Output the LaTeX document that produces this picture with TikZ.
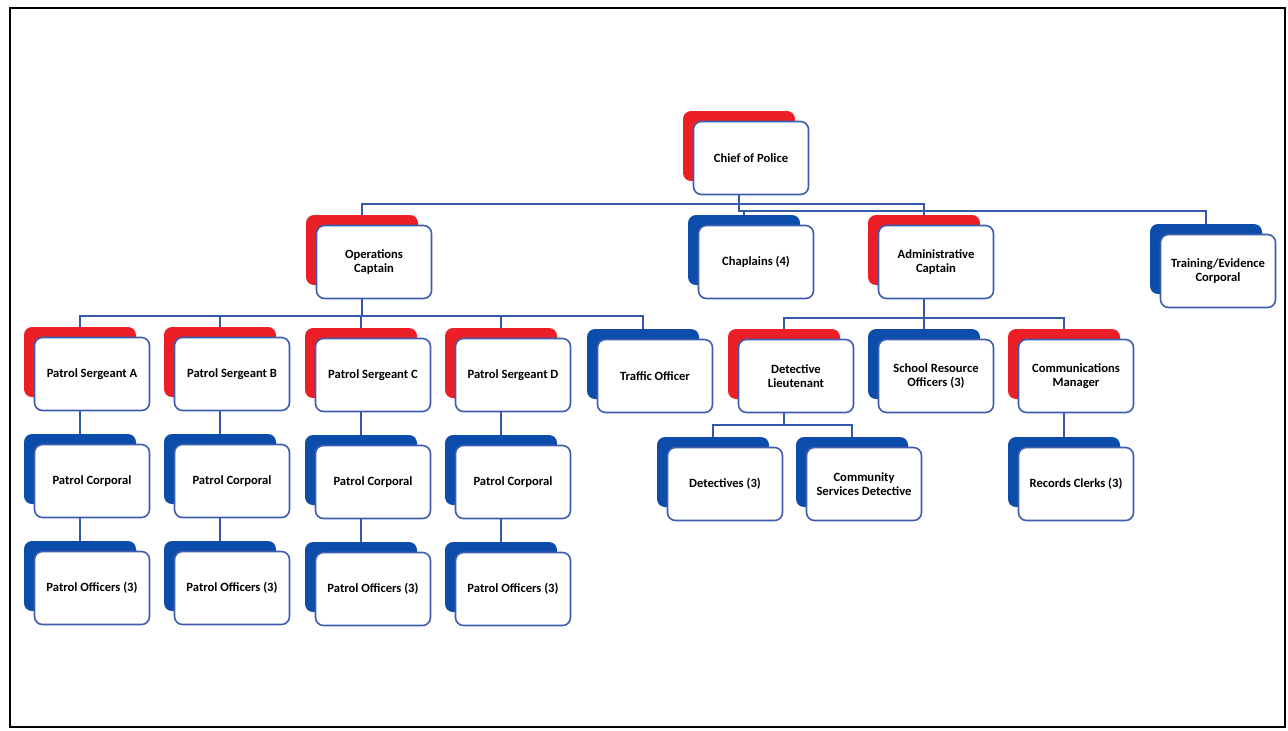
\documentclass[tikz,border=0pt]{standalone}
\usepackage{fontspec}
\setmainfont{Carlito}
\usetikzlibrary{backgrounds}

\definecolor{rankred}{RGB}{236,30,38}
\definecolor{rankblue}{RGB}{12,76,170}
\definecolor{cardedge}{RGB}{62,92,176}
\definecolor{linkblue}{RGB}{52,88,172}

\tikzset{
  card/.style={draw=cardedge, line width=0.8pt, fill=white, rounded corners=4pt,
    minimum width=57.5pt, minimum height=36.5pt, inner sep=0pt, align=center,
    font=\fontsize{6.3}{7}\selectfont\bfseries},
  backcard/.style={fill=#1, rounded corners=4pt, minimum width=56pt,
    minimum height=35pt, inner sep=0pt},
  link/.style={draw=linkblue, line width=0.7pt},
}

% one post: name, x, y, colour, text
\newcommand{\post}[5]{%
  \node[backcard=#4] (#1) at ({#2-12},{#3-12}) {};
  \node[card] (#1card) at (#2,#3) {#5};
}
% connector from parent to child, bend at bar height
\newcommand{\tie}[3]{\draw[link] (#1.south) -- (#1.south |- 0,#3) -| (#2.north);}

\begin{document}
\begin{tikzpicture}[x=0.5pt, y=-0.5pt]
    \useasboundingbox (0,0) rectangle (1288,730);

    % Frame
    \draw[line width=1.3pt] (10,8) rectangle (1285,727);

    % Top
    \post{chief}{751}{158}{rankred}{Chief of Police}

    % Second row
    \post{ops}{374}{262}{rankred}{Operations\\Captain}
    \post{chaplains}{756}{262}{rankblue}{Chaplains (4)}
    \post{admin}{936}{262}{rankred}{Administrative\\Captain}
    \post{training}{1218}{271}{rankblue}{Training/Evidence\\Corporal}

    % Third row
    \post{sgtA}{92}{374}{rankred}{Patrol Sergeant A}
    \post{sgtB}{232}{374}{rankred}{Patrol Sergeant B}
    \post{sgtC}{373}{375}{rankred}{Patrol Sergeant C}
    \post{sgtD}{513}{375}{rankred}{Patrol Sergeant D}
    \post{traffic}{655}{376}{rankblue}{Traffic Officer}
    \post{detlt}{796}{376}{rankred}{Detective\\Lieutenant}
    \post{sro}{936}{376}{rankblue}{School Resource\\Officers (3)}
    \post{comms}{1076}{376}{rankred}{Communications\\Manager}

    % Fourth row
    \post{cplA}{92}{481}{rankblue}{Patrol Corporal}
    \post{cplB}{232}{481}{rankblue}{Patrol Corporal}
    \post{cplC}{373}{482}{rankblue}{Patrol Corporal}
    \post{cplD}{513}{482}{rankblue}{Patrol Corporal}
    \post{detectives}{725}{484}{rankblue}{Detectives (3)}
    \post{community}{864}{484}{rankblue}{Community\\Services Detective}
    \post{records}{1076}{484}{rankblue}{Records Clerks (3)}

    % Fifth row
    \post{offA}{92}{588}{rankblue}{Patrol Officers (3)}
    \post{offB}{232}{588}{rankblue}{Patrol Officers (3)}
    \post{offC}{373}{589}{rankblue}{Patrol Officers (3)}
    \post{offD}{513}{589}{rankblue}{Patrol Officers (3)}

    % Connectors
    \begin{scope}[on background layer]
        \tie{chief}{ops}{204}
        \tie{chief}{admin}{204}
        \tie{chief}{chaplains}{211}
        \tie{chief}{training}{211}
        \foreach \c in {sgtA,sgtB,sgtC,sgtD,traffic}
            {\tie{ops}{\c}{316}}
        \foreach \c in {detlt,sro,comms}
            {\tie{admin}{\c}{318}}
        \tie{detlt}{detectives}{425}
        \tie{detlt}{community}{425}
        \tie{comms}{records}{425}
        \foreach \s/\c/\o in {sgtA/cplA/offA,sgtB/cplB/offB,sgtC/cplC/offC,sgtD/cplD/offD}
            {\tie{\s}{\c}{425} \tie{\c}{\o}{530}}
    \end{scope}
\end{tikzpicture}
\end{document}
